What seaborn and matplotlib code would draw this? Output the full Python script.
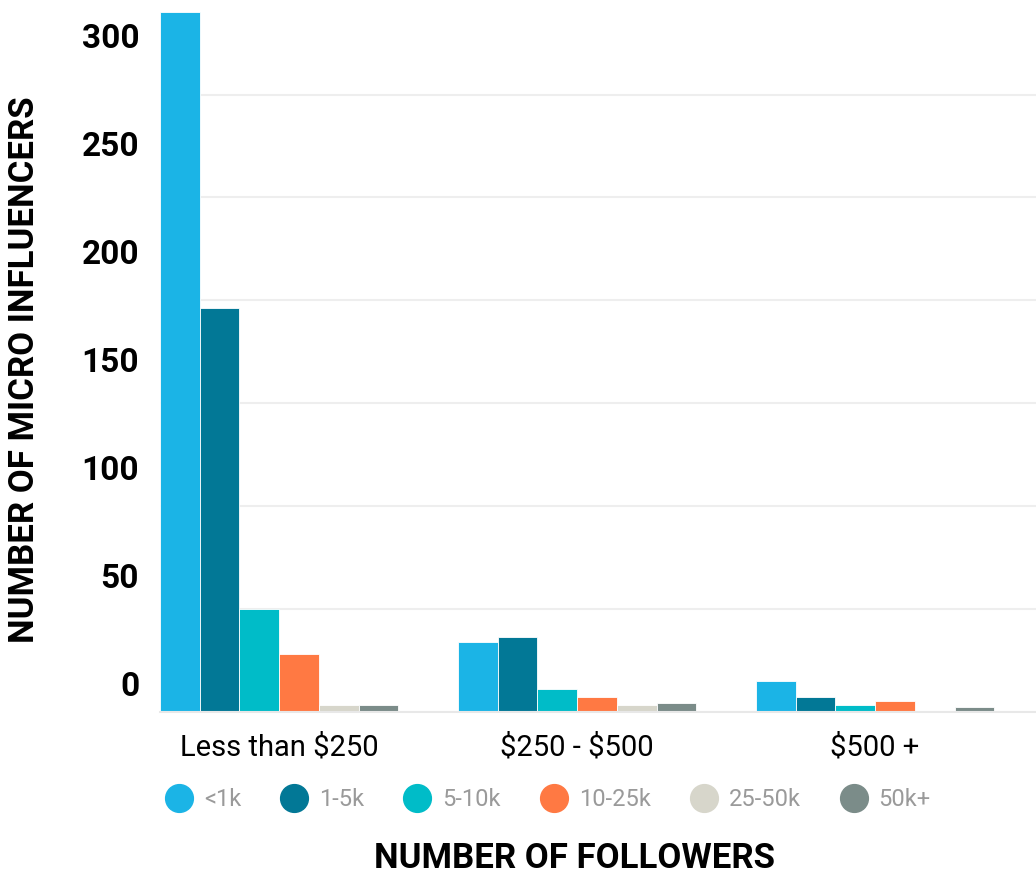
import numpy as np
import pandas as pd
import seaborn as sns
import matplotlib.pyplot as plt
from matplotlib.lines import Line2D

# datos
precios = ["Less than $250", "$250 - $500", "$500 +"]
seguidores = ["<1k", "1-5k", "5-10k", "10-25k", "25-50k", "50k+"]
colores = ["#1BB4E6", "#027896", "#00BCC8", "#FF7943", "#D7D6CB", "#7B8C89"]

menos_250 = [340, 196, 50, 28, 3, 3]
de_250_a_500 = [34, 36, 11, 7, 3, 4]
mas_500 = [15, 7, 3, 5, 0, 2]

df = pd.DataFrame({
    "precio": np.repeat(precios, len(seguidores)),
    "seguidores": seguidores * len(precios),
    "cantidad": menos_250 + de_250_a_500 + mas_500,
})

sns.set_theme(style="white")
plt.rcParams["font.family"] = ["Roboto", "DejaVu Sans"]
plt.rcParams["text.parse_math"] = False
plt.rcParams["text.color"] = "black"

fig = plt.figure(figsize=(10.36, 8.75), dpi=100)
ax = fig.add_axes([160 / 1036, 163.5 / 875, 876 / 1036, 711.5 / 875])

sns.barplot(data=df, x="precio", y="cantidad", hue="seguidores",
            order=precios, hue_order=seguidores, palette=colores,
            width=0.8, saturation=1, edgecolor="white", linewidth=0.6,
            legend=False, ax=ax)

ax.set_xlim(-0.4, 2.54)
ax.set_ylim(0, 346)
ax.set_yticks(range(0, 301, 50))
ax.yaxis.grid(True, color="#EEEEEE", linewidth=1.5)
ax.set_axisbelow(True)
ax.tick_params(axis="y", left=False, labelleft=False)
ax.tick_params(axis="x", length=0, pad=16, labelsize=21, labelcolor="black")
for s in ["top", "right", "left"]:
    ax.spines[s].set_visible(False)
ax.spines["bottom"].set_color("#E8E8E8")
ax.spines["bottom"].set_linewidth(1.5)
ax.set_xlabel("")
ax.set_ylabel("")

# las etiquetas del eje y del original no caen sobre la rejilla
sec = ax.secondary_yaxis("left", functions=(lambda v: 0.951 * v - 12.81,
                                            lambda l: (l + 12.81) / 0.951))
sec.set_yticks(range(0, 301, 50))
sec.tick_params(length=0, pad=15, labelsize=24, labelcolor="black")
for lab in sec.get_yticklabels():
    lab.set_fontweight("bold")
sec.spines["left"].set_visible(False)

fig.text(25 / 1036, 1 - 370 / 875, "NUMBER OF MICRO INFLUENCERS",
         rotation=90, ha="center", va="center", fontsize=25, fontweight="bold")
fig.text(575 / 1036, 1 - 858 / 875, "NUMBER OF FOLLOWERS",
         ha="center", va="center", fontsize=25, fontweight="bold")

handles = [Line2D([], [], marker="o", linestyle="", markersize=20,
                  markerfacecolor=c, markeredgecolor=c) for c in colores]
fig.legend(handles, seguidores, loc="center", bbox_to_anchor=(543 / 1036, 1 - 800 / 875),
           ncol=6, frameon=False, fontsize=17, labelcolor="#9A9A9A",
           handletextpad=0.05, columnspacing=1.25)

fig.savefig("out.png", dpi=100)
